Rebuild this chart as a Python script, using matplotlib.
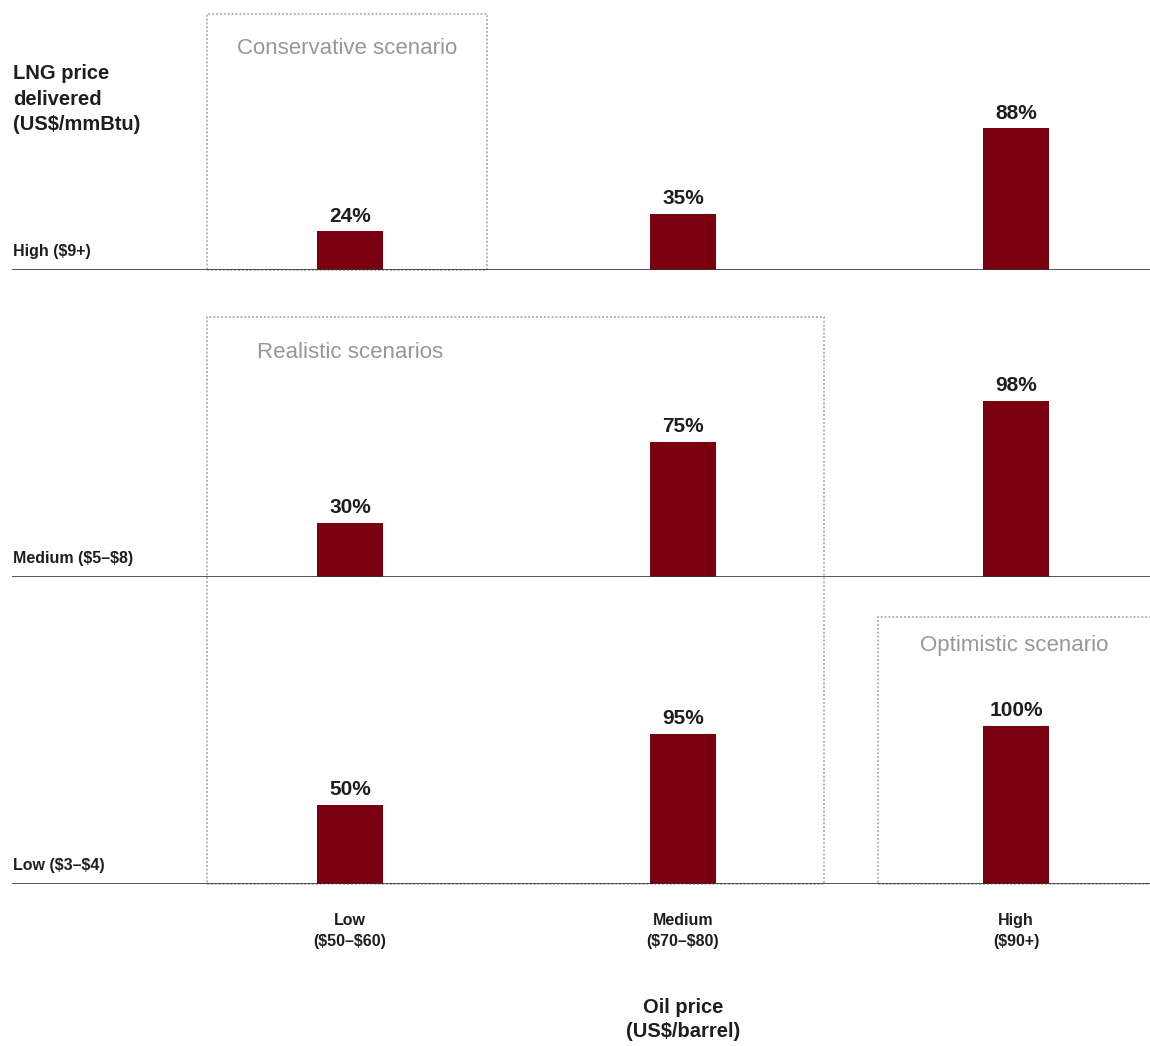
import matplotlib
matplotlib.use("Agg")
import matplotlib.pyplot as plt
from matplotlib.patches import Rectangle

plt.rcParams["font.family"] = ["Liberation Sans", "DejaVu Sans"]
plt.rcParams["text.parse_math"] = False

# ---- data ----
oil_levels = ["Low\n($50–$60)", "Medium\n($70–$80)", "High\n($90+)"]
lng_levels = ["High ($9+)", "Medium ($5–$8)", "Low ($3–$4)"]
high_lng = [24, 35, 88]
medium_lng = [30, 75, 98]
low_lng = [50, 95, 100]
rows = [high_lng, medium_lng, low_lng]
scenario_names = ["Conservative scenario", "Realistic scenarios", "Optimistic scenario"]
y_title = "LNG price\ndelivered\n(US$/mmBtu)"
x_title = "Oil price\n(US$/barrel)"

W, H = 1150, 1046
fig = plt.figure(figsize=(W / 100, H / 100), dpi=100)

BAR = "#7a0010"
TXT = "#1e1e1e"
GRAY = "#9a9696"

def fx(px):
    return px / W

def fy(py):
    return 1 - py / H

# row layout (pixel baselines, px per percent)
baselines = [270, 577, 884]
tops = [0, 290, 597]
scales = [1.61, 1.80, 1.58]
x_left, x_right = 12, 1150
cat_px = [350, 683, 1016]
step = cat_px[1] - cat_px[0]
xmin = (x_left - cat_px[0]) / step
xmax = (x_right - cat_px[0]) / step
bw = 66 / step

axes = []
for r, vals in enumerate(rows):
    b, t, s = baselines[r], tops[r], scales[r]
    ax = fig.add_axes([fx(x_left), fy(b), fx(x_right - x_left), (b - t) / H])
    ax.patch.set_visible(False)
    xs = list(range(len(vals)))
    ax.bar(xs, vals, width=bw, color=BAR, zorder=2)
    for x, v in zip(xs, vals):
        ax.annotate(f"{v}%", (x, v), xytext=(0, 4), textcoords="offset points",
                    ha="center", va="bottom", fontsize=15, fontweight="bold", color=TXT)
    ax.set_xlim(xmin, xmax)
    ax.set_ylim(0, (b - t) / s)
    ax.axhline(0, color="#333333", lw=1.9, zorder=3)
    for sp in ax.spines.values():
        sp.set_visible(False)
    ax.set_yticks([])
    ax.tick_params(length=0)
    if r < 2:
        ax.set_xticks([])
    else:
        ax.set_xticks(xs, oil_levels, fontsize=11.5, fontweight="bold", color=TXT,
                      linespacing=1.45)
        ax.tick_params(axis="x", pad=21)
    ax.text(0.0005, 14 / s, lng_levels[r], transform=ax.get_yaxis_transform(),
            ha="left", va="baseline", fontsize=11.5, fontweight="bold", color=TXT)
    axes.append(ax)

# dotted scenario boxes (pixel coordinates)
boxes = [(207, 14, 487, 270), (207, 317, 824, 884), (878, 617, 1153, 884)]
for (x0, y0, x1, y1) in boxes:
    rect = Rectangle((fx(x0), fy(y1)), fx(x1 - x0), (y1 - y0) / H,
                     transform=fig.transFigure, fill=False, edgecolor="#b4b4b4",
                     lw=1.4, linestyle=(0, (1, 1)), zorder=-1)
    fig.add_artist(rect)

label_pos = [(237, 48), (257, 353), (920, 646)]
for name, (lx, ly) in zip(scenario_names, label_pos):
    fig.text(fx(lx), fy(ly), name, ha="left", va="center", fontsize=16, color=GRAY)

fig.text(fx(13), fy(64), y_title, ha="left", va="top", fontsize=14.5,
         fontweight="bold", color=TXT, linespacing=1.45)
fig.text(fx(683), fy(998), x_title, ha="center", va="top", fontsize=14.5,
         fontweight="bold", color=TXT, linespacing=1.35)

fig.savefig("out.png", dpi=100, facecolor="white")
